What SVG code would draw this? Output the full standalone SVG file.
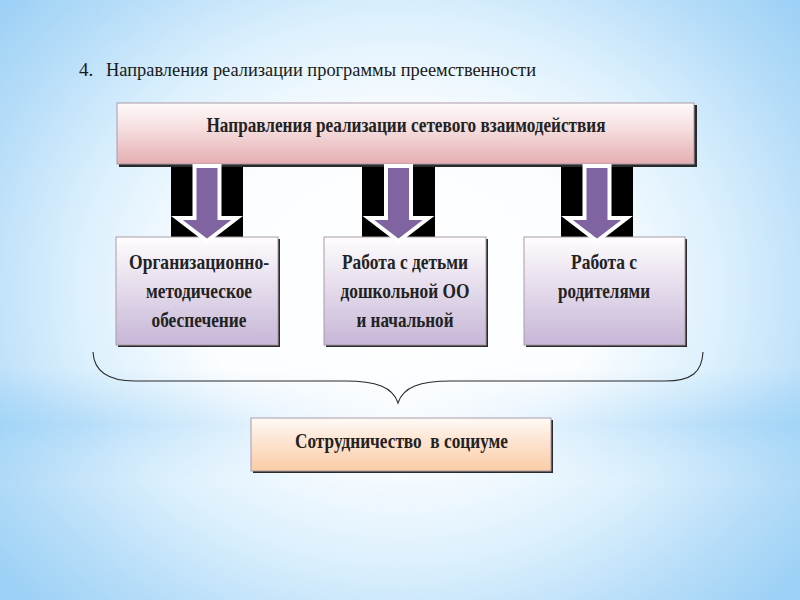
<svg xmlns="http://www.w3.org/2000/svg" width="800" height="600" viewBox="0 0 800 600">
<defs>
<radialGradient id="bg" cx="400" cy="290" r="520" gradientUnits="userSpaceOnUse" gradientTransform="translate(400 290) scale(1 0.85) translate(-400 -290)">
<stop offset="0" stop-color="#ffffff"/>
<stop offset="0.38" stop-color="#fbfdff"/>
<stop offset="0.62" stop-color="#dcf0fd"/>
<stop offset="0.85" stop-color="#b4dcf8"/>
<stop offset="1" stop-color="#9dd1f6"/>
</radialGradient>
<linearGradient id="bandH" x1="0" y1="0" x2="1" y2="0">
<stop offset="0" stop-color="#9fd3f7" stop-opacity="0.9"/>
<stop offset="0.3" stop-color="#c6e5fb" stop-opacity="0.5"/>
<stop offset="0.5" stop-color="#e6f4fe" stop-opacity="0.2"/>
<stop offset="0.7" stop-color="#c6e5fb" stop-opacity="0.5"/>
<stop offset="1" stop-color="#9fd3f7" stop-opacity="0.9"/>
</linearGradient>
<linearGradient id="bandV" x1="0" y1="0" x2="0" y2="1">
<stop offset="0" stop-color="#fff" stop-opacity="0"/>
<stop offset="0.5" stop-color="#fff" stop-opacity="1"/>
<stop offset="1" stop-color="#fff" stop-opacity="0"/>
</linearGradient>
<mask id="bandMask" maskUnits="userSpaceOnUse" x="0" y="370" width="800" height="110">
<rect x="0" y="370" width="800" height="110" fill="url(#bandV)"/>
</mask>
<linearGradient id="pink" x1="0" y1="0" x2="0" y2="1">
<stop offset="0" stop-color="#fefafa"/>
<stop offset="0.4" stop-color="#f6dfe0"/>
<stop offset="1" stop-color="#e5aeb1"/>
</linearGradient>
<linearGradient id="lav" x1="0" y1="0" x2="0" y2="1">
<stop offset="0" stop-color="#fefdfe"/>
<stop offset="0.35" stop-color="#ebe4f0"/>
<stop offset="1" stop-color="#c7b6d7"/>
</linearGradient>
<linearGradient id="peach" x1="0" y1="0" x2="0" y2="1">
<stop offset="0" stop-color="#fffaf6"/>
<stop offset="0.4" stop-color="#fde6d4"/>
<stop offset="1" stop-color="#fbcca5"/>
</linearGradient>
<style>
text{font-family:'Liberation Serif','DejaVu Serif',serif}
.t{fill:#1a1a1a}
.b{font-weight:bold;fill:#222;font-size:21px;text-anchor:middle}
.sh{fill:#2a2a2a}
.box{stroke:#a99aa8;stroke-width:1}
.blk{fill:#000}
.arr{fill:#8064a2;stroke:#ffffff;stroke-width:4;stroke-linejoin:miter}
.brace{fill:none;stroke:#2a2a2a;stroke-width:1.1}
</style>
</defs>

<rect width="800" height="600" fill="url(#bg)"/>
<rect x="0" y="370" width="800" height="110" fill="url(#bandH)" mask="url(#bandMask)"/>

<g id="title" font-family="Liberation Serif, serif">
<text class="t" x="79" y="76" font-size="19">4.</text>
<text class="t" x="106" y="76" font-size="19" textLength="430" lengthAdjust="spacingAndGlyphs">Направления реализации программы преемственности</text>
</g>

<g id="connectors">
<rect class="blk" x="171" y="163" width="72" height="75"/>
<rect class="blk" x="362" y="163" width="73" height="75"/>
<rect class="blk" x="561" y="163" width="72" height="75"/>
</g>

<g id="top" font-family="Liberation Serif, serif">
<rect class="sh" x="119" y="105" width="578" height="62"/>
<rect class="box" x="117" y="103" width="577" height="61" fill="url(#pink)" stroke="#c49ea2"/>
<text class="b" x="406" y="132" font-size="20" textLength="399" lengthAdjust="spacingAndGlyphs">Направления реализации сетевого взаимодействия</text>
</g>

<g id="box1" font-family="Liberation Serif, serif">
<rect class="sh" x="118" y="239" width="162" height="108"/>
<rect class="box" x="116" y="237" width="162" height="108" fill="url(#lav)"/>
<text class="b" x="199" y="269" textLength="140" lengthAdjust="spacingAndGlyphs">Организационно-</text>
<text class="b" x="199" y="298" textLength="106" lengthAdjust="spacingAndGlyphs">методическое</text>
<text class="b" x="199" y="327" textLength="95" lengthAdjust="spacingAndGlyphs">обеспечение</text>
</g>

<g id="box2" font-family="Liberation Serif, serif">
<rect class="sh" x="326" y="239" width="162" height="108"/>
<rect class="box" x="324" y="237" width="162" height="108" fill="url(#lav)"/>
<text class="b" x="405" y="269" textLength="126" lengthAdjust="spacingAndGlyphs">Работа с детьми</text>
<text class="b" x="405" y="298" textLength="129" lengthAdjust="spacingAndGlyphs">дошкольной ОО</text>
<text class="b" x="405" y="327" textLength="97" lengthAdjust="spacingAndGlyphs">и начальной</text>
</g>

<g id="box3" font-family="Liberation Serif, serif">
<rect class="sh" x="526" y="239" width="161" height="108"/>
<rect class="box" x="524" y="237" width="161" height="108" fill="url(#lav)"/>
<text class="b" x="604" y="269" textLength="66" lengthAdjust="spacingAndGlyphs">Работа с</text>
<text class="b" x="604" y="298" textLength="92" lengthAdjust="spacingAndGlyphs">родителями</text>
</g>

<g id="arrows">
<path class="arr" d="M194.5,166 H219.5 V218 H237 L207,241 L177,218 H194.5 Z"/>
<path class="arr" d="M386,166 H411 V218 H428.5 L398.5,241 L368.5,218 H386 Z"/>
<path class="arr" d="M584.5,166 H609.5 V218 H627 L597,241 L567,218 H584.5 Z"/>
</g>

<g id="brace">
<path class="brace" d="M93,352 C94,372 108,381 135,381 L345,381 C376,381 393,387 398,403 C403,387 420,381 451,381 L665,381 C692,381 702,372 703,352"/>
</g>

<g id="bottom" font-family="Liberation Serif, serif">
<rect class="sh" x="253" y="420" width="300" height="53"/>
<rect class="box" x="251" y="418" width="300" height="53" fill="url(#peach)" stroke="#d9b59a"/>
<text class="b" x="401.5" y="448" textLength="213" lengthAdjust="spacingAndGlyphs" xml:space="preserve">Сотрудничество  в социуме</text>
</g>
</svg>
